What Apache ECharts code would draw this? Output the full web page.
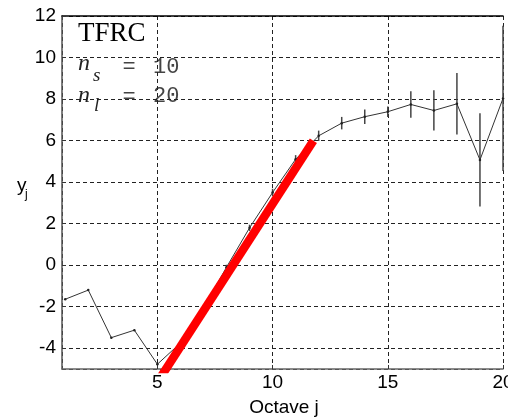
<!DOCTYPE html>
<html>
<head>
<meta charset="utf-8">
<script src="https://cdn.jsdelivr.net/npm/echarts@6/dist/echarts.min.js"></script>
<style>html,body{margin:0;padding:0;background:#fff}#c{width:508px;height:419px}</style>
</head>
<body>
<div id="c"></div>
<script>
// Octave index j
const octaves = [1,2,3,4,5,6,7,8,9,10,11,12,13,14,15,16,17,18,19,20];
// y_j values
const yValues = [-1.64,-1.2,-3.49,-3.13,-4.77,-3.75,-2.05,-0.1,1.8,3.5,5.1,6.23,6.84,7.15,7.39,7.74,7.45,7.77,5.07,8.03];
// half-width of confidence interval
const errValues = [0,0,0,0,0,0.1,0.1,0.12,0.15,0.18,0.2,0.25,0.3,0.35,0.25,0.64,0.97,1.48,2.25,3.5];
// fitted regression line endpoints (j, y)
const fitJ = [5.0, 11.77];
const fitY = [-5.64, 5.99];
const xTicks = [5,10,15,20];
const yTicks = [-4,-2,0,2,4,6,8,10,12];

const chart = echarts.init(document.getElementById('c'), null, {renderer:'canvas'});
const F = '"Liberation Sans", Arial, sans-serif';
const lineData = octaves.map((j,i)=>[j,yValues[i]]);
const errData = octaves.map((j,i)=>[j,yValues[i],errValues[i]]);
const fitData = fitJ.map((j,i)=>[j,fitY[i]]);
const grid = {left:62,right:5,top:16,bottom:50,containLabel:false,outerBoundsMode:'none'};

chart.setOption({
  animation:false,
  grid:grid,
  xAxis:[{
    type:'value',min:0.86,max:20,minInterval:5,maxInterval:5,splitNumber:4,
    axisLine:{show:true,onZero:false,lineStyle:{color:'#666',width:1.5}},
    axisTick:{show:true,inside:true,length:4,lineStyle:{color:'#333'}},
    axisLabel:{showMinLabel:false,hideOverlap:false,color:'#000',fontFamily:F,fontSize:19,margin:4,
      formatter:v=>xTicks.includes(v)?String(v):''},
    splitLine:{show:true,lineStyle:{color:'#222',type:[4,3],width:1}}
  },{
    type:'value',position:'top',min:0.86,max:20,
    axisLine:{show:true,onZero:false,lineStyle:{color:'#000',width:1.5}},
    axisTick:{show:false},axisLabel:{show:false},splitLine:{show:false}
  }],
  yAxis:{
    type:'value',min:-5,max:12,minInterval:2,maxInterval:2,
    axisLine:{show:true,onZero:false,lineStyle:{color:'#555',width:1.5}},
    axisTick:{show:true,inside:true,length:4,lineStyle:{color:'#333'}},
    axisLabel:{showMinLabel:false,color:'#000',fontFamily:F,fontSize:19,margin:6,
      formatter:v=>yTicks.includes(v)?String(v):''},
    splitLine:{show:true,lineStyle:{color:'#222',type:[4,3],width:1}}
  },
  series:[{
    type:'line',data:lineData,clip:false,
    lineStyle:{color:'#333',width:1},
    symbol:'circle',symbolSize:2.5,itemStyle:{color:'#222'},
    z:3
  },{
    type:'custom',data:errData,clip:false,z:3,
    renderItem:(params,api)=>{
      const x=api.value(0),y=api.value(1),e=api.value(2);
      if(!e) return null;
      const p1=api.coord([x,y-e]),p2=api.coord([x,y+e]);
      return {type:'line',shape:{x1:p1[0],y1:p1[1],x2:p2[0],y2:p2[1]},
        style:{stroke:'#444',lineWidth:1.5}};
    }
  },{
    type:'line',data:fitData,symbol:'none',clip:true,
    lineStyle:{color:'#ff0000',width:8.5,cap:'butt'},z:4
  }],
  graphic:[
    {type:'text',left:78,top:20,style:{text:'TFRC',font:'27px "Liberation Serif", "Times New Roman", serif',fill:'#000'}},
    {type:'text',x:78,y:64,style:{text:'n',font:'italic 24px "Liberation Serif", serif',fill:'#222',verticalAlign:'middle'}},
    {type:'text',x:93,y:76,style:{text:'s',font:'italic 19px "Liberation Serif", serif',fill:'#222',verticalAlign:'middle'}},
    {type:'text',x:129,y:67,style:{text:'=',font:'22px "Liberation Mono", monospace',fill:'#444',align:'center',verticalAlign:'middle'}},
    {type:'text',x:153,y:67,style:{text:'10',font:'22px "Liberation Mono", monospace',fill:'#444',verticalAlign:'middle'}},
    {type:'text',x:78,y:96,style:{text:'n',font:'italic 24px "Liberation Serif", serif',fill:'#222',verticalAlign:'middle'}},
    {type:'text',x:94,y:106,style:{text:'l',font:'italic 19px "Liberation Serif", serif',fill:'#222',verticalAlign:'middle'}},
    {type:'text',x:129,y:97,style:{text:'=',font:'22px "Liberation Mono", monospace',fill:'#444',align:'center',verticalAlign:'middle'}},
    {type:'text',x:153,y:96,style:{text:'20',font:'22px "Liberation Mono", monospace',fill:'#444',verticalAlign:'middle'}},
    {type:'text',x:284,y:408,style:{text:'Octave j',font:'19px "Liberation Sans", Arial, sans-serif',fill:'#000',align:'center',verticalAlign:'middle'}},
    {type:'text',x:17,y:186,style:{text:'y',font:'19px "Liberation Sans", Arial, sans-serif',fill:'#000',verticalAlign:'middle'}},
    {type:'text',x:25,y:195,style:{text:'j',font:'12px "Liberation Sans", Arial, sans-serif',fill:'#000',verticalAlign:'middle'}}
  ]
});
</script>
</body>
</html>
